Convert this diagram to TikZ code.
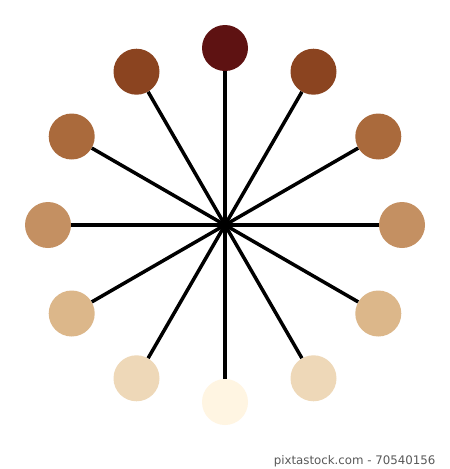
\documentclass[tikz,border=0pt]{standalone}
\usepackage{fontspec}
\setmainfont{DejaVu Sans}
\usetikzlibrary{calc}
\definecolor{c0}{HTML}{5E1212}
\definecolor{c1}{HTML}{8B4420}
\definecolor{c2}{HTML}{AA6A3C}
\definecolor{c3}{HTML}{C49062}
\definecolor{c4}{HTML}{DCB78A}
\definecolor{c5}{HTML}{EED8B8}
\definecolor{c6}{HTML}{FFF5E2}
\begin{document}
\begin{tikzpicture}[x=1pt,y=-1pt,
  dot/.style={circle,minimum size=46pt,inner sep=0pt,draw=none},
  spoke/.style={line width=3.5pt,black}]
\useasboundingbox (0,0) rectangle (450,469);
\fill[white] (0,0) rectangle (450,469);
\coordinate (o) at (225,225);
\foreach \i/\c in {0/c0,1/c1,2/c2,3/c3,4/c4,5/c5,6/c6,7/c5,8/c4,9/c3,10/c2,11/c1} {
  \pgfmathsetmacro{\ang}{30*\i-90}
  \node[dot,fill=\c] (d\i) at ($(o)+(\ang:177)$) {};
}
\foreach \i in {0,...,11} {
  \draw[spoke] (o) -- (d\i);
}
\node[text=black!65,font=\fontsize{11.8}{14}\selectfont,anchor=east] (wm) at (439,461) {pixtastock.com - 70540156};
\end{tikzpicture}
\end{document}
